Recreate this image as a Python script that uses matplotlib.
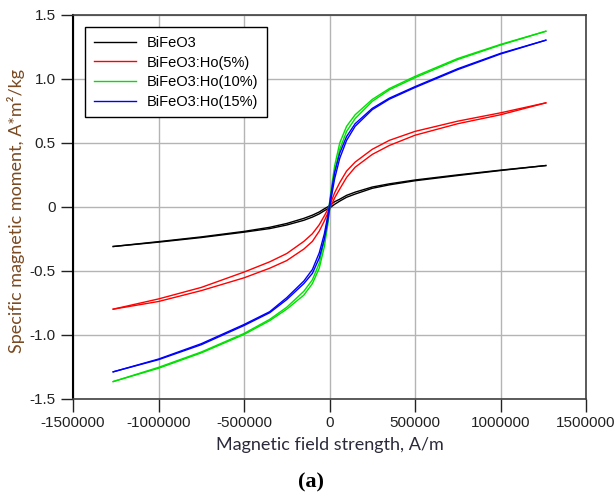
import matplotlib
matplotlib.use('Agg')
import matplotlib.pyplot as plt

# field values, A/m
H = [-1265000, -1000000, -750000, -500000, -350000, -250000, -150000, -100000, -60000, -30000, -10000, 0,
     10000, 30000, 60000, 100000, 150000, 250000, 350000, 500000, 750000, 1000000, 1265000]

# descending (up) and ascending (down) branches
bfo_up = [-0.31, -0.272, -0.235, -0.192, -0.16, -0.13, -0.09, -0.065, -0.04, -0.015, 0.0, 0.01,
          0.02, 0.04, 0.06, 0.09, 0.115, 0.155, 0.18, 0.21, 0.25, 0.287, 0.323]
bfo_down = [-0.31, -0.276, -0.24, -0.198, -0.17, -0.142, -0.105, -0.08, -0.055, -0.03, -0.015, -0.008,
            0.0, 0.02, 0.045, 0.075, 0.10, 0.145, 0.172, 0.204, 0.245, 0.284, 0.323]

ho5_up = [-0.80, -0.72, -0.63, -0.51, -0.43, -0.365, -0.27, -0.21, -0.14, -0.07, -0.02, 0.01,
          0.04, 0.11, 0.19, 0.28, 0.35, 0.45, 0.52, 0.59, 0.67, 0.735, 0.813]
ho5_down = [-0.80, -0.74, -0.655, -0.555, -0.48, -0.42, -0.33, -0.27, -0.19, -0.11, -0.05, -0.02,
            0.01, 0.07, 0.14, 0.23, 0.31, 0.41, 0.48, 0.56, 0.65, 0.72, 0.813]

ho10_up = [-1.366, -1.255, -1.135, -0.99, -0.88, -0.785, -0.66, -0.57, -0.44, -0.26, -0.08, 0.03,
           0.14, 0.32, 0.50, 0.63, 0.72, 0.84, 0.925, 1.02, 1.16, 1.27, 1.373]
ho10_down = [-1.366, -1.262, -1.142, -0.998, -0.89, -0.80, -0.69, -0.60, -0.48, -0.31, -0.14, -0.03,
             0.08, 0.27, 0.45, 0.59, 0.69, 0.825, 0.915, 1.01, 1.152, 1.265, 1.373]

ho15_up = [-1.29, -1.19, -1.07, -0.92, -0.82, -0.71, -0.58, -0.49, -0.36, -0.21, -0.07, 0.02,
           0.11, 0.27, 0.42, 0.55, 0.65, 0.77, 0.85, 0.94, 1.08, 1.20, 1.303]
ho15_down = [-1.29, -1.195, -1.078, -0.928, -0.828, -0.725, -0.60, -0.52, -0.40, -0.25, -0.11, -0.02,
             0.07, 0.22, 0.38, 0.52, 0.63, 0.76, 0.842, 0.933, 1.073, 1.195, 1.303]

labels = ['BiFeO3', 'BiFeO3:Ho(5%)', 'BiFeO3:Ho(10%)', 'BiFeO3:Ho(15%)']
colors = ['black', '#ff0000', '#00e000', '#0000ff']
branches = [(bfo_up, bfo_down), (ho5_up, ho5_down), (ho10_up, ho10_down), (ho15_up, ho15_down)]

xticks = [-1500000, -1000000, -500000, 0, 500000, 1000000, 1500000]
yticks = [-1.5, -1.0, -0.5, 0, 0.5, 1.0, 1.5]
ytick_labels = ['-1.5', '-1.0', '-0.5', '0', '0.5', '1.0', '1.5']

plt.rcParams['font.family'] = ['Liberation Sans', 'DejaVu Sans']

fig = plt.figure(figsize=(6.15, 4.92), dpi=100)
ax = fig.add_axes([73/615, 1-398.7/492, (586-73)/615, (398.7-15)/492])

for (up, down), c, lab in zip(branches, colors, labels):
	ax.plot(H, up, color=c, lw=1.0, label=lab)
	ax.plot(H, down, color=c, lw=1.0)

ax.set_xlim(-1500000, 1500000)
ax.set_ylim(-1.5, 1.5)
ax.set_xticks(xticks)
ax.set_xticklabels([str(v) for v in xticks])
ax.set_yticks(yticks)
ax.set_yticklabels(ytick_labels)
ax.tick_params(direction='out', length=9, width=1, labelsize=11, pad=3.5, colors='#222222')
ax.grid(True, color='#b4b4b4', lw=1)
ax.set_axisbelow(True)
for side in ['top', 'right', 'bottom']:
	ax.spines[side].set_color('#404040')
	ax.spines[side].set_linewidth(1.2)
ax.spines['left'].set_color('black')
ax.spines['left'].set_linewidth(1.5)

ax.set_xlabel('Magnetic field strength, A/m', family='Lato', fontsize=13, color='#2a2a3a', labelpad=5)
fig.text(16/615, 1-211/492, 'Specific magnetic moment, A*m²/kg', family='Lato', fontsize=13,
	color='#7a4a22', rotation=90, ha='center', va='center')
fig.text(311/615, 1-482/492, '(a)', family='Liberation Serif', fontweight='bold', fontsize=16,
	ha='center', va='center')

leg = ax.legend(loc='upper left', bbox_to_anchor=(85/615, 1-27.3/492), bbox_transform=fig.transFigure,
	fontsize=10.5, fancybox=False, framealpha=1, edgecolor='black', handlelength=2.9,
	handletextpad=0.75, labelspacing=0.38, borderpad=0.6, borderaxespad=0)
leg.get_frame().set_linewidth(1.0)

fig.savefig('out.png', dpi=100)
